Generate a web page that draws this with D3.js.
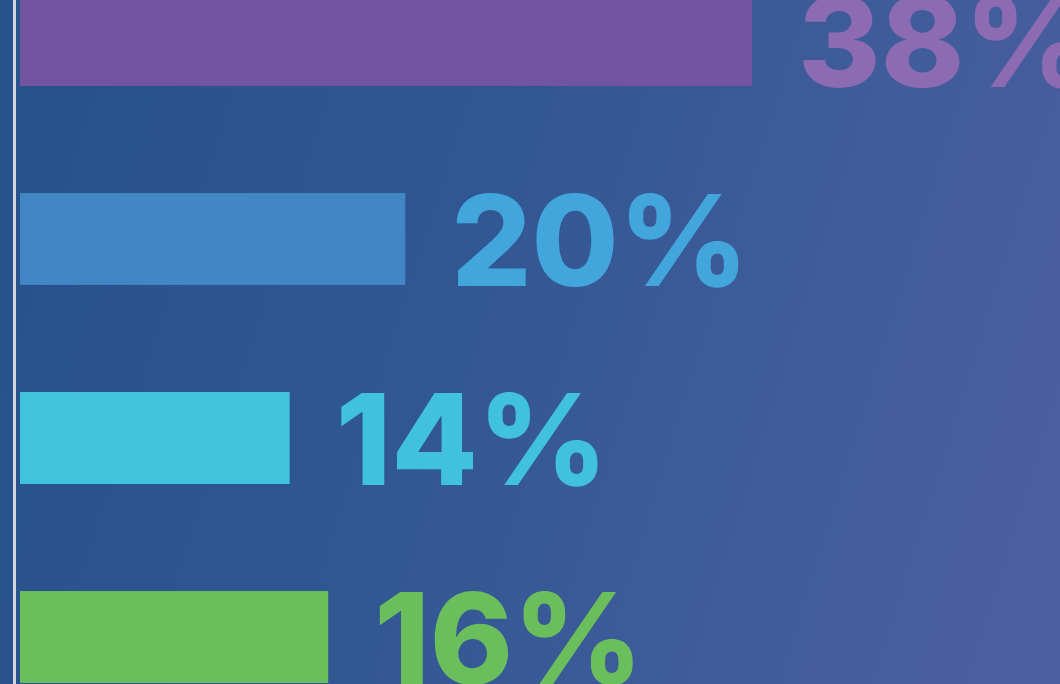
<!DOCTYPE html>
<html>
<head>
<meta charset="utf-8">
<script src="https://cdn.jsdelivr.net/npm/d3@7"></script>
<style>
    html, body { margin: 0; padding: 0; overflow: hidden; }
    body { width: 1060px; height: 684px; }
</style>
</head>
<body>
<script>
// chart values
var categories = ["a", "b", "c", "d"];
var values = [38, 20, 14, 16];
var labels = ["38%", "20%", "14%", "16%"];
var barColors = ["#7354a0", "#4286c6", "#40c4dc", "#6abf5c"];
var labelColors = ["#8c6bb2", "#42a6dc", "#40c2dc", "#6abf5c"];

var width = 1060,
    height = 684;

var svg = d3.select("body").append("svg")
    .attr("width", width)
    .attr("height", height);

// background: dark blue on the left fading to a violet blue on the right
var defs = svg.append("defs");
var grad = defs.append("linearGradient")
    .attr("id", "bg")
    .attr("x1", "0%").attr("y1", "40%")
    .attr("x2", "100%").attr("y2", "60%");
grad.append("stop").attr("offset", "0%").attr("stop-color", "#28528b");
grad.append("stop").attr("offset", "40%").attr("stop-color", "#305792");
grad.append("stop").attr("offset", "75%").attr("stop-color", "#405c9a");
grad.append("stop").attr("offset", "100%").attr("stop-color", "#4b5e9f");

svg.append("rect")
    .attr("width", width)
    .attr("height", height)
    .attr("fill", "url(#bg)");

// baseline rule on the left
svg.append("rect")
    .attr("x", 13)
    .attr("y", 0)
    .attr("width", 3)
    .attr("height", height)
    .attr("fill", "#d3d6dc");

var x0 = 20;
var xScale = d3.scaleLinear().domain([0, 38]).range([x0, 752]);

var yScale = d3.scaleBand()
    .domain(categories)
    .range([-6, 683])
    .paddingInner(0.538)
    .paddingOuter(0);

var data = categories.map(function(c, i) {
    return {key: c, value: values[i], label: labels[i],
            bar: barColors[i], text: labelColors[i]};
});

svg.selectAll("rect.bar")
    .data(data)
    .enter()
    .append("rect")
    .attr("class", "bar")
    .attr("x", xScale(0))
    .attr("y", d => yScale(d.key))
    .attr("width", d => xScale(d.value) - xScale(0))
    .attr("height", yScale.bandwidth())
    .attr("fill", d => d.bar);

svg.selectAll("text.val")
    .data(data)
    .enter()
    .append("text")
    .attr("class", "val")
    .attr("x", d => xScale(d.value) + 46)
    .attr("y", d => yScale(d.key) + yScale.bandwidth() + 1)
    .attr("fill", d => d.text)
    .style("font-family", "Inter, 'Open Sans', sans-serif")
    .style("font-weight", 800)
    .style("font-size", "126px")
    .text(d => d.label);
</script>
</body>
</html>
